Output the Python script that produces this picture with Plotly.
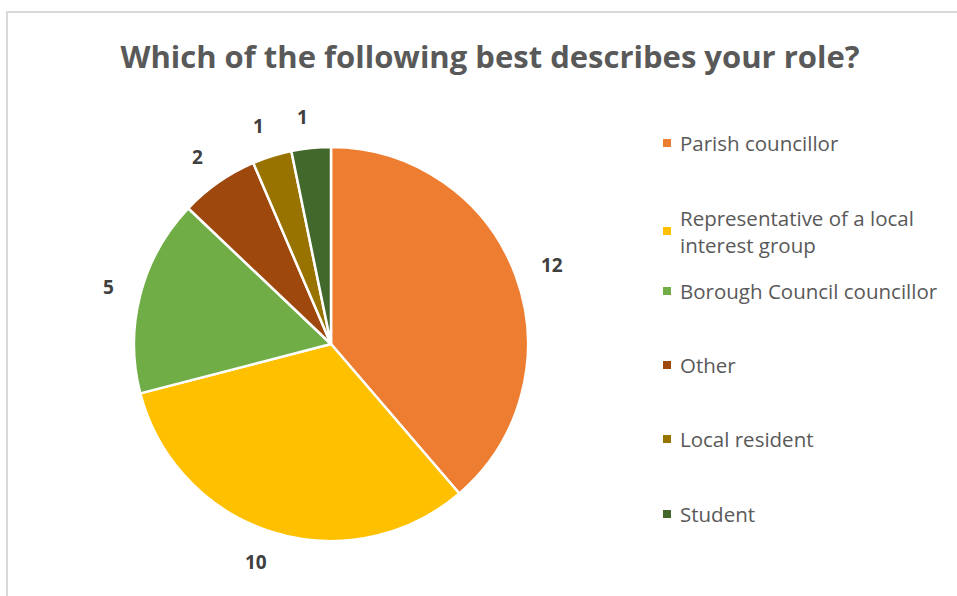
import math
import plotly.graph_objects as go

labels = ["Parish councillor", "Representative of a local<br>interest group",
          "Borough Council councillor", "Other", "Local resident", "Student"]
values = [12, 10, 5, 2, 1, 1]
colors = ["#ED7D31", "#FFC000", "#70AD47", "#9E480E", "#997300", "#43682B"]

W, H = 957, 596
fig = go.Figure()
cx, cy, r = 331, 344, 197
fig.add_trace(go.Pie(
    labels=labels, values=values, sort=False, direction="clockwise", rotation=0,
    marker=dict(colors=colors, line=dict(color="white", width=2.5)),
    textinfo="none",
    domain=dict(x=[(cx - r) / W, (cx + r) / W], y=[1 - (cy + r) / H, 1 - (cy - r) / H]),
    showlegend=False, hoverinfo="label+value",
))

shapes = [dict(type="rect", xref="paper", yref="paper", x0=7 / W, x1=1.05, y0=-0.05, y1=1 - 12 / H,
               line=dict(color="#D9D9D9", width=2), fillcolor="rgba(0,0,0,0)", layer="below")]
annotations = []

# data labels placed outside each slice, along the slice's mid-angle
total = sum(values)
cum = 0
R0 = r + 21
for v in values:
    mid = (cum + v / 2) / total * 2 * math.pi
    cum += v
    s, c = math.sin(mid), math.cos(mid)
    bw, bh = 11.5 * len(str(v)), 20
    lx = cx + R0 * s + bw / 2 * s + 6 * (1 if s > 0 else -1)
    ly = cy - R0 * c - bh / 2 * c
    annotations.append(dict(xref="paper", yref="paper", x=lx / W, y=1 - ly / H, text=f"<b>{v}</b>",
                            showarrow=False, xanchor="center", yanchor="middle",
                            font=dict(family="Open Sans", size=19, color="#404040")))

leg_y = [143, 231, 291, 365, 439, 514]
for lab, col, ly in zip(labels, colors, leg_y):
    shapes.append(dict(type="rect", xref="paper", yref="paper",
                       x0=663 / W, x1=671 / W, y0=1 - (ly + 4) / H, y1=1 - (ly - 4) / H,
                       fillcolor=col, line=dict(width=0)))
    annotations.append(dict(xref="paper", yref="paper", x=678 / W, y=1 - ly / H,
                            text=lab, showarrow=False, xanchor="left", yanchor="middle", align="left",
                            font=dict(family="Open Sans", size=20.5, color="#595959")))

fig.update_layout(
    width=W, height=H, margin=dict(l=0, r=0, t=0, b=0),
    paper_bgcolor="white", plot_bgcolor="white",
    title=dict(text="<b>Which of the following best describes your role?</b>",
               x=490 / W, xanchor="center", y=1 - 57 / H, yanchor="middle",
               font=dict(family="Open Sans", size=31, color="#595959")),
    shapes=shapes, annotations=annotations,
)
fig.write_html("out.html")
